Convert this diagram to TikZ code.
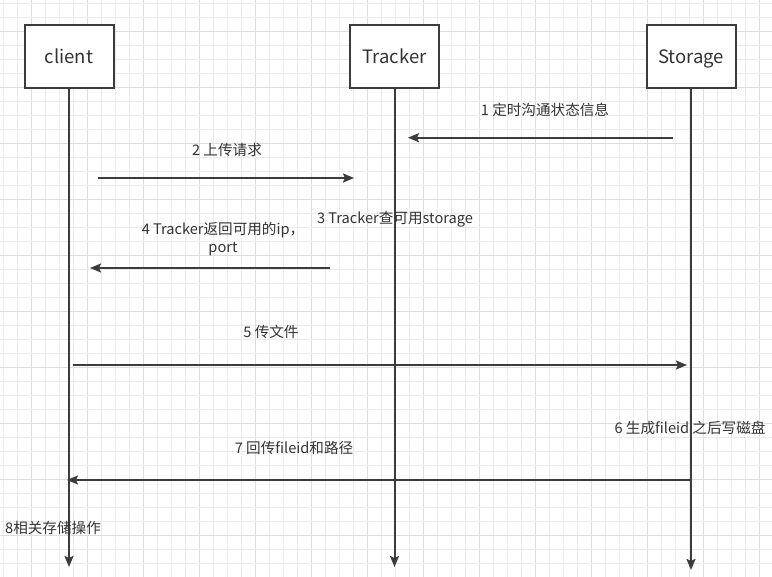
\documentclass[tikz,border=0pt]{standalone}
\usepackage{fontspec}
\setmainfont{Noto Sans CJK SC}
\usetikzlibrary{arrows.meta}
\definecolor{ln}{HTML}{3C3C3C}
\definecolor{tx}{HTML}{333333}
\definecolor{gridminor}{HTML}{EBEBEB}
\definecolor{gridmajor}{HTML}{DDDDDD}
\tikzset{
  actor/.style={draw=ln, line width=2pt, fill=white, minimum width=89pt, minimum height=63pt, inner sep=0pt,
    font=\fontsize{18.5}{22}\selectfont, text=tx, text height=16.6pt, text depth=3.1pt},
  lifeline/.style={draw=ln, line width=2pt, -{Stealth[length=11pt,width=9pt,inset=2pt]}},
  msg/.style={draw=ln, line width=1.7pt, -{Stealth[length=11pt,width=9pt,inset=2pt]}},
  lbl/.style={font=\fontsize{14.6}{17.5}\selectfont, text=tx, inner sep=0pt, align=center}
}
\begin{document}
\begin{tikzpicture}[x=1pt,y=-1pt]
\useasboundingbox (0,0) rectangle (772,577);
\fill[white] (0,0) rectangle (772,577);
\foreach \i in {0,...,55}{
  \pgfmathtruncatemacro\m{mod(\i,4)}
  \ifnum\m=2 \def\gc{gridmajor}\else\def\gc{gridminor}\fi
  \draw[\gc, line width=1pt] ({3.3+14*\i},0) -- ({3.3+14*\i},577);
}
\foreach \i in {0,...,41}{
  \pgfmathtruncatemacro\m{mod(\i,4)}
  \ifnum\m=2 \def\gc{gridmajor}\else\def\gc{gridminor}\fi
  \draw[\gc, line width=1pt] (0,{3.3+14*\i}) -- (772,{3.3+14*\i});
}
% actors
\node[actor] (client) at (69,57) {client};
\node[actor] (tracker) at (394.5,57) {Tracker};
\node[actor] (storage) at (691,57) {Storage};
% lifeline ends
\coordinate (cend) at (69,567);
\coordinate (tend) at (394.5,567);
\coordinate (send) at (691,570);
\draw[lifeline] (client.south) -- (cend);
\draw[lifeline] (tracker.south) -- (tend);
\draw[lifeline] (storage.south) -- (send);
% message 1
\coordinate (m1s) at (673,137.7);
\coordinate (m1e) at (408,137.7);
\draw[msg] (m1s) -- (m1e);
\node[lbl] (l1) at (545,109.5) {1 定时沟通状态信息};
% message 2
\coordinate (m2s) at (98,178);
\coordinate (m2e) at (354,178);
\draw[msg] (m2s) -- (m2e);
\node[lbl] (l2) at (227,149.5) {2 上传请求};
% 3
\node[lbl] (l3) at (395,219.5) {3 Tracker查可用storage};
% message 4
\coordinate (m4s) at (330,268);
\coordinate (m4e) at (90,268);
\draw[msg] (m4s) -- (m4e);
\node[lbl] (l4) at (223,239) {4 Tracker返回可用的ip，\\port};
% message 5
\coordinate (m5s) at (73,365);
\coordinate (m5e) at (687,365);
\draw[msg] (m5s) -- (m5e);
\node[lbl] (l5) at (271,331.5) {5 传文件};
% 6
\node[lbl] (l6) at (690,427.5) {6 生成fileid 之后写磁盘};
% message 7
\coordinate (m7s) at (691,480);
\coordinate (m7e) at (67,480);
\draw[msg] (m7s) -- (m7e);
\node[lbl] (l7) at (294,447.5) {7 回传fileid和路径};
% 8
\node[lbl] (l8) at (53,527.5) {8相关存储操作};
\end{tikzpicture}
\end{document}
